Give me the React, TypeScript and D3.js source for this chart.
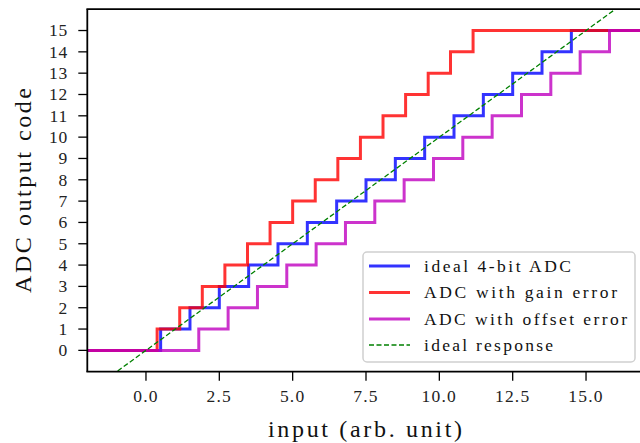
import React from "react";
import * as d3 from "d3";

const idealThresholds = [0.5, 1.5, 2.5, 3.5, 4.5, 5.5, 6.5, 7.5, 8.5, 9.5, 10.5, 11.5, 12.5, 13.5, 14.5];
const gainThresholds = [0.38, 1.15, 1.92, 2.69, 3.46, 4.23, 5.0, 5.77, 6.54, 7.31, 8.08, 8.85, 9.62, 10.38, 11.15];
const offsetThresholds = [1.8, 2.8, 3.8, 4.8, 5.8, 6.8, 7.8, 8.8, 9.8, 10.8, 11.8, 12.8, 13.8, 14.8, 15.8];
const idealResponse: [number, number][] = [[-2, -2], [17, 17]];

const xTicks = [0, 2.5, 5, 7.5, 10, 12.5, 15];
const xTickLabels = ["0.0", "2.5", "5.0", "7.5", "10.0", "12.5", "15.0"];
const yTicks = [0, 1, 2, 3, 4, 5, 6, 7, 8, 9, 10, 11, 12, 13, 14, 15];

const seriesNames = ["ideal 4-bit ADC", "ADC with gain error", "ADC with offset error", "ideal response"];

const W = 640, H = 443;
const L = 87.3, R = 644.7, T = 9.2, B = 371.7;
const FONT = "'Liberation Serif', 'DejaVu Serif', serif";

export default function App() {
  const x = d3.scaleLinear().domain([-2, 17]).range([L, R]);
  const y = d3.scaleLinear().domain([-1, 16]).range([B, T]);

  const stepLine = d3.line<[number, number]>().x(d => x(d[0])).y(d => y(d[1])).curve(d3.curveStepAfter);
  const straight = d3.line<[number, number]>().x(d => x(d[0])).y(d => y(d[1]));

  const toSteps = (th: number[]): [number, number][] => [
    [-2, 0],
    ...th.map((t, i) => [t, i + 1] as [number, number]),
    [17, th.length],
  ];

  const series = [
    { th: idealThresholds, color: "#0000ff" },
    { th: gainThresholds, color: "#ff0000" },
    { th: offsetThresholds, color: "#bf00bf" },
  ];

  const legendX = 363, legendY = 252, legendW = 272, legendH = 110;
  const rowY = [266, 292.5, 319, 345];
  const textLens = [147, 193, 203, 129];
  const legendColors = ["#0000ff", "#ff0000", "#bf00bf", "#008000"];

  return (
    <svg width={W} height={H} style={{ position: "absolute", left: 0, top: 0, background: "#fff" }}>
      <defs>
        <clipPath id="plotclip">
          <rect x={L} y={T} width={R - L} height={B - T} />
        </clipPath>
      </defs>
      <rect x={0} y={0} width={W} height={H} fill="#fff" />
      <g clipPath="url(#plotclip)">
        {series.map((s, i) => (
          <path key={i} d={stepLine(toSteps(s.th)) || ""} fill="none" stroke={s.color}
            strokeOpacity={0.8} strokeWidth={3} strokeLinejoin="miter" />
        ))}
        <path d={straight(idealResponse) || ""} fill="none" stroke="#008000" strokeWidth={1.3}
          strokeDasharray="5,2.5" />
      </g>
      {/* spines */}
      <line x1={L} y1={T} x2={L} y2={B} stroke="#000" strokeWidth={1.8} />
      <line x1={L - 0.9} y1={B} x2={W} y2={B} stroke="#000" strokeWidth={1.8} />
      <line x1={L - 0.9} y1={T} x2={W} y2={T} stroke="#000" strokeWidth={1.8} />
      {/* y ticks */}
      {yTicks.map(t => (
        <g key={"y" + t}>
          <line x1={L - 9} x2={L} y1={y(t)} y2={y(t)} stroke="#000" strokeWidth={1.3} />
          <text x={68} y={y(t)} dy="0.34em" textAnchor="end" fontFamily={FONT} fontSize={17.5} fill="#222"
            letterSpacing={0.8}>
            {String(t)}
          </text>
        </g>
      ))}
      {/* x ticks */}
      {xTicks.map((t, i) => (
        <g key={"x" + t}>
          <line x1={x(t)} x2={x(t)} y1={B} y2={B + 9} stroke="#000" strokeWidth={1.3} />
          <text x={x(t)} y={401.5} textAnchor="middle" fontFamily={FONT} fontSize={17.5} fill="#222"
            letterSpacing={1.2}>
            {xTickLabels[i]}
          </text>
        </g>
      ))}
      {/* axis labels */}
      <text x={365} y={437} textAnchor="middle" fontFamily={FONT} fontSize={24} fill="#111"
        textLength={194} lengthAdjust="spacing">input (arb. unit)</text>
      <text transform={`translate(31,190.5) rotate(-90)`} textAnchor="middle" fontFamily={FONT} fontSize={24}
        fill="#111" textLength={205} lengthAdjust="spacing">ADC output code</text>
      {/* legend */}
      <rect x={legendX} y={legendY} width={legendW} height={legendH} rx={4} ry={4}
        fill="#fff" fillOpacity={0.8} stroke="#d0d0d0" strokeWidth={1.5} />
      {seriesNames.map((n, i) => (
        <g key={n}>
          <line x1={369} x2={410} y1={rowY[i]} y2={rowY[i]} stroke={legendColors[i]}
            strokeOpacity={i < 3 ? 0.8 : 1} strokeWidth={i < 3 ? 3 : 1.3}
            strokeDasharray={i === 3 ? "5,2.5" : undefined} />
          <text x={424} y={rowY[i]} dy="0.33em" fontFamily={FONT} fontSize={17.5} fill="#111"
            textLength={textLens[i]} lengthAdjust="spacing">{n}</text>
        </g>
      ))}
    </svg>
  );
}
